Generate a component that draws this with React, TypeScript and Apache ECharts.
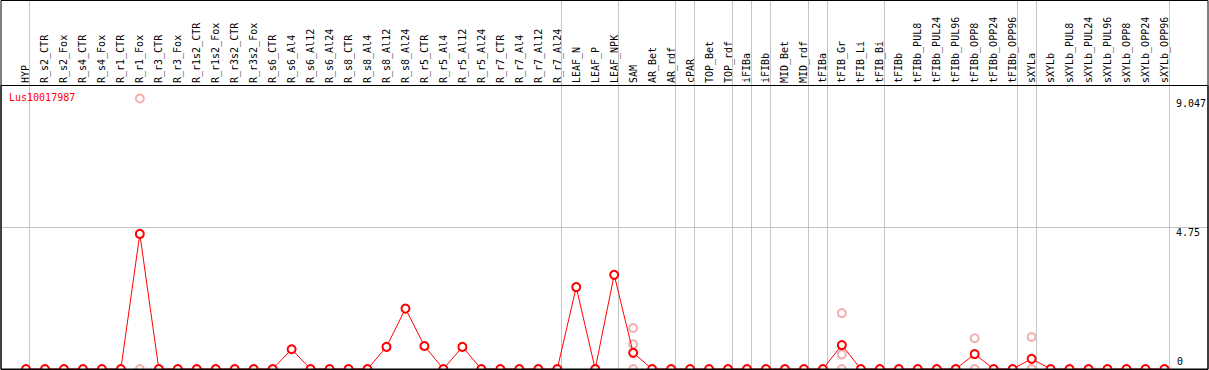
import React, { useEffect, useRef } from "react";
import * as echarts from "echarts";

const geneName = "Lus10017987";

const categories = [
  "HYP", "R_s2_CTR", "R_s2_Fox", "R_s4_CTR", "R_s4_Fox", "R_r1_CTR", "R_r1_Fox", "R_r3_CTR", "R_r3_Fox",
  "R_r1s2_CTR", "R_r1s2_Fox", "R_r3s2_CTR", "R_r3s2_Fox", "R_s6_CTR", "R_s6_Al4", "R_s6_Al12", "R_s6_Al24",
  "R_s8_CTR", "R_s8_Al4", "R_s8_Al12", "R_s8_Al24", "R_r5_CTR", "R_r5_Al4", "R_r5_Al12", "R_r5_Al24",
  "R_r7_CTR", "R_r7_Al4", "R_r7_Al12", "R_r7_Al24", "LEAF_N", "LEAF_P", "LEAF_NPK", "SAM", "AR_Bet", "AR_rdf",
  "cPAR", "TOP_Bet", "TOP_rdf", "iFIBa", "iFIBb", "MID_Bet", "MID_rdf", "tFIBa", "tFIB_Gr", "tFIB_Li", "tFIB_Bi",
  "tFIBb", "tFIBb_PUL8", "tFIBb_PUL24", "tFIBb_PUL96", "tFIBb_OPP8", "tFIBb_OPP24", "tFIBb_OPP96",
  "sXYLa", "sXYLb", "sXYLb_PUL8", "sXYLb_PUL24", "sXYLb_PUL96", "sXYLb_OPP8", "sXYLb_OPP24", "sXYLb_OPP96",
];

// mean expression per sample (same order as categories)
const meanValues = [
  0, 0, 0, 0, 0, 0, 4.52, 0, 0,
  0, 0, 0, 0, 0, 0.66, 0, 0,
  0, 0, 0.74, 2.02, 0.77, 0, 0.74, 0,
  0, 0, 0, 0, 2.74, 0, 3.15, 0.54, 0, 0,
  0, 0, 0, 0, 0, 0, 0, 0, 0.8, 0, 0,
  0, 0, 0, 0, 0.5, 0, 0,
  0.34, 0, 0, 0, 0, 0, 0, 0,
];

// individual replicate values
const replicateSamples = [
  "R_r1_Fox", "R_r1_Fox",
  "SAM", "SAM", "SAM",
  "tFIB_Gr", "tFIB_Gr", "tFIB_Gr",
  "tFIBb_OPP8", "tFIBb_OPP8",
  "sXYLa", "sXYLa",
];
const replicateValues = [
  9.047, 0,
  1.37, 0.83, 0,
  1.87, 0.49, 0,
  1.03, 0,
  1.07, 0,
];

// first category index of each tissue group (last = end)
const groupStarts = [0, 1, 29, 32, 35, 36, 38, 39, 40, 42, 43, 46, 53, 54, 61];

const yMax = 9.5;
const yStep = 4.75;
const maxLabel = 9.047;

const MONO = "'DejaVu Sans Mono', monospace";
const RED = "#ff0000";
const PINK = "#f09a9a";
const GRID_GRAY = "#c4c4c4";
const GROUP_LINE_SHIFT = 0.316;

export default function App() {
  const ref = useRef<HTMLDivElement>(null);

  useEffect(() => {
    if (!ref.current) return;
    const chart = echarts.init(ref.current, null, { renderer: "svg" });
    const option: any = {
      animation: false,
      backgroundColor: "#ffffff",
      title: {
        text: geneName,
        left: 9,
        top: 92,
        padding: 0,
        textStyle: { color: RED, fontSize: 10, fontFamily: MONO, fontWeight: "normal" },
      },
      grid: [
        { left: 1, right: 1, top: 0.5, bottom: 0.5, show: true, borderColor: "#000", borderWidth: 1, z: 10 },
        { left: 16.5, right: 33.5, top: 85, bottom: 1 },
        { left: 1, right: 1, top: 85.5, bottom: 1, show: true, borderColor: "#000", borderWidth: 1, z: 10 },
        { left: 16.5, right: 33.5, top: 0, bottom: 1 },
      ],
      xAxis: [
        { gridIndex: 0, type: "value", show: false },
        {
          gridIndex: 1,
          type: "category",
          data: categories,
          position: "top",
          axisLine: { show: false },
          axisTick: { show: false },
          splitLine: { show: false },
          axisLabel: { rotate: 90, interval: 0, margin: 2, fontSize: 10, fontFamily: MONO, color: "#000" },
        },
        { gridIndex: 2, type: "value", show: false },
        { gridIndex: 3, type: "value", min: -0.5, max: categories.length - 0.5, show: false },
      ],
      yAxis: [
        { gridIndex: 0, type: "value", show: false },
        {
          gridIndex: 1,
          type: "value",
          min: 0,
          max: yMax,
          position: "right",
          offset: 0,
          axisLine: { show: false },
          axisTick: { show: false },
          splitLine: { show: false },
          axisLabel: {
            customValues: [yStep, maxLabel],
            margin: 2,
            verticalAlign: "top",
            fontSize: 10,
            fontFamily: MONO,
            color: "#000",
            formatter: (v: number) => String(v),
          },
        },
        {
          gridIndex: 1,
          type: "value",
          min: 0,
          max: yMax,
          position: "right",
          offset: 0,
          axisLine: { show: false },
          axisTick: { show: false },
          splitLine: { show: false },
          axisLabel: {
            customValues: [0],
            margin: 3,
            verticalAlign: "bottom",
            padding: [0, 0, 3, 0],
            fontSize: 10,
            fontFamily: MONO,
            color: "#000",
            formatter: (v: number) => String(v),
          },
        },
        {
          gridIndex: 2,
          type: "value",
          min: 0,
          max: yMax,
          interval: yStep,
          axisLine: { show: false },
          axisTick: { show: false },
          axisLabel: { show: false },
          splitLine: { show: true, lineStyle: { color: GRID_GRAY, width: 1 } },
        },
        { gridIndex: 3, type: "value", min: 0, max: 1, show: false },
      ],
      series: [
        {
          type: "line",
          xAxisIndex: 3,
          yAxisIndex: 4,
          data: [[0, -1]],
          symbol: "none",
          lineStyle: { opacity: 0 },
          silent: true,
          z: 1,
          markLine: {
            silent: true,
            symbol: ["none", "none"],
            label: { show: false },
            lineStyle: { color: GRID_GRAY, width: 1, type: "solid" },
            data: groupStarts.map((g) => ({ xAxis: g - 0.5 - GROUP_LINE_SHIFT })),
          },
        },
        {
          type: "scatter",
          xAxisIndex: 1,
          yAxisIndex: 1,
          data: replicateSamples.map((s, i) => [s, replicateValues[i]]),
          symbol: "emptyCircle",
          symbolSize: 8,
          itemStyle: { color: PINK, borderColor: PINK, borderWidth: 1.2 },
          z: 4,
        },
        {
          type: "line",
          xAxisIndex: 1,
          yAxisIndex: 1,
          data: meanValues,
          symbol: "emptyCircle",
          symbolSize: 8,
          showSymbol: true,
          showAllSymbol: true,
          itemStyle: { color: RED, borderColor: RED, borderWidth: 1.2 },
          lineStyle: { color: RED, width: 1 },
          z: 5,
        },
      ],
    };
    chart.setOption(option);
    return () => chart.dispose();
  }, []);

  return (
    <div
      ref={ref}
      style={{ position: "absolute", left: 0, top: 0, width: 1209, height: 370 }}
    />
  );
}
